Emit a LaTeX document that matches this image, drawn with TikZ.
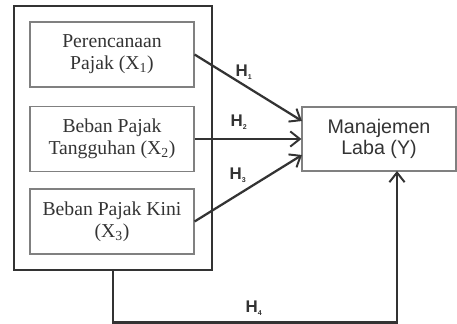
\documentclass[tikz,border=0pt]{standalone}
\usepackage{fontspec}
\setmainfont{Liberation Serif}
\setsansfont{Liberation Sans}
\usetikzlibrary{arrows.meta}

\definecolor{ink}{HTML}{333333}
\definecolor{rim}{HTML}{808080}

\tikzset{
    varbox/.style={draw=rim, line width=0.8pt, minimum width=4.1cm, minimum height=1.625cm,
        align=center, text=ink, inner sep=0pt, font=\fontsize{14}{15.5}\selectfont},
    hyp/.style={draw=ink, line width=1.6pt, -{Straight Barb[length=2.4mm, width=3.8mm, line width=1.4pt]}},
    hlabel/.style={text=ink, font=\sffamily\bfseries\fontsize{12}{14}\selectfont}
}

\begin{document}
\begin{tikzpicture}
            \useasboundingbox (0, 0) rectangle (11.425, 8.075);

            \node[draw=ink, line width=2pt, minimum width=4.95cm, minimum height=6.6cm] at(2.825, 4.625)(outer){};

            \node[varbox] at(2.8, 6.7125)(x1){Perencanaan\\Pajak (X\textsubscript{1})};
            \node[varbox] at(2.8, 4.6)(x2){Beban Pajak\\Tangguhan (X\textsubscript{2})};
            \node[varbox] at(2.8, 2.5375)(x3){Beban Pajak Kini\\(X\textsubscript{3})};

            \node[varbox, font=\sffamily\fontsize{14}{15.5}\selectfont, minimum width=3.85cm, minimum height=1.6cm] at(9.475, 4.6)(y){Manajemen\\Laba (Y)};

            \coordinate (y1) at (7.55, 5.05);
            \coordinate (y3) at (7.55, 4.2);
            \coordinate (y4) at (9.925, 3.8);

            \draw[hyp](x1.east) -- (y1);
            \draw[hyp](x2.east) -- (y.west);
            \draw[hyp](x3.east) -- (y3);
            \draw[hyp](outer.south) -- ++(0, -1.275) -| (y4);

            \node[hlabel] at(6.1, 6.275)(h1){H\textsubscript{\fontsize{5}{5}\selectfont 1}};
            \node[hlabel] at(5.975, 5.025)(h2){H\textsubscript{\fontsize{5}{5}\selectfont 2}};
            \node[hlabel] at(5.95, 3.7)(h3){H\textsubscript{\fontsize{5}{5}\selectfont 3}};
            \node[hlabel] at(6.35, 0.375)(h4){H\textsubscript{\fontsize{5}{5}\selectfont 4}};

\end{tikzpicture}
\end{document}
